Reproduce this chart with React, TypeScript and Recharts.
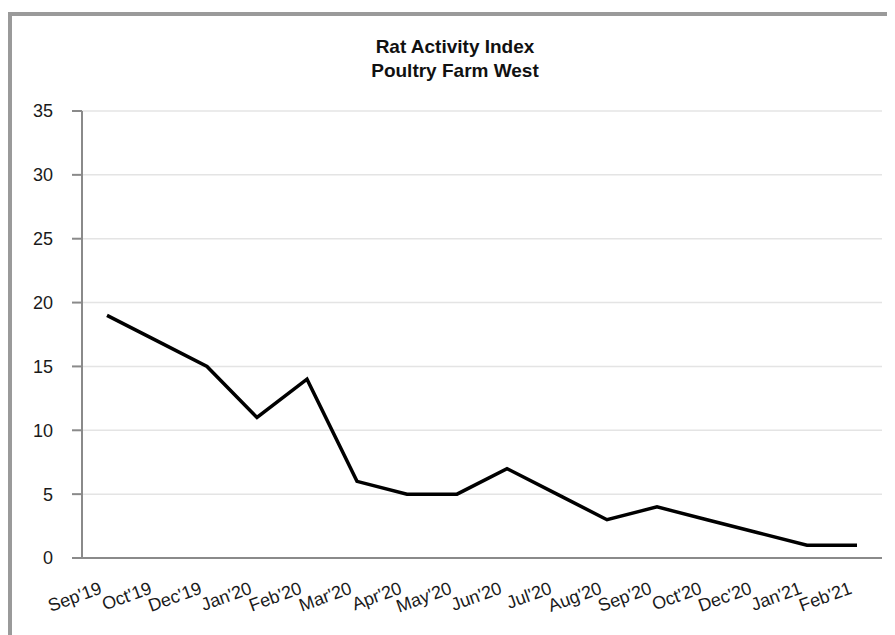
import React from 'react';
import { LineChart, Line, XAxis, YAxis, CartesianGrid } from 'recharts';

const months = ["Sep'19", "Oct'19", "Dec'19", "Jan'20", "Feb'20", "Mar'20", "Apr'20", "May'20", "Jun'20", "Jul'20", "Aug'20", "Sep'20", "Oct'20", "Dec'20", "Jan'21", "Feb'21"];
const activityIndex = [19, 17, 15, 11, 14, 6, 5, 5, 7, 5, 3, 4, 3, 2, 1, 1];
const yTicks = [0, 5, 10, 15, 20, 25, 30, 35];
const titleLines = ['Rat Activity Index', 'Poultry Farm West'];

const data = months.map((m, i) => ({ month: m, value: activityIndex[i] }));

const FONT = '"Liberation Sans", Arial, Helvetica, sans-serif';

const XTick = (props: any) => {
  const { x, y, payload } = props;
  return (
    <g transform={`translate(${x - 4},${y + 35})`}>
      <text x={0} y={0} textAnchor="end" transform="rotate(-20)" fontSize={18} fill="#1a1a1a" fontFamily={FONT}>
        {payload.value}
      </text>
    </g>
  );
};

export default function App() {
  return (
    <div style={{ position: 'relative', width: 887, height: 627, overflow: 'hidden', background: '#fff' }}>
      <div style={{ position: 'absolute', left: 0, top: 4, width: 1000, height: 1000, border: '4px solid #9a9a9a', boxSizing: 'border-box' }} />
      <div style={{ position: 'absolute', left: 0, top: 27, width: 894, textAlign: 'center', fontFamily: FONT, fontWeight: 'bold', fontSize: 19, lineHeight: '24px', color: '#111' }}>
        {titleLines.map((t) => (
          <div key={t}>{t}</div>
        ))}
      </div>
      <div style={{ position: 'absolute', left: 0, top: 0 }}>
        <LineChart width={887} height={627} data={data} margin={{ top: 103, right: 13, bottom: 17, left: 0 }}>
          <CartesianGrid vertical={false} stroke="#e4e4e4" strokeWidth={1.5} />
          <XAxis
            dataKey="month"
            interval={0}
            padding={{ left: 25, right: 25 }}
            tickLine={false}
            tickSize={0}
            tickMargin={0}
            height={60}
            stroke="#8a8a8a"
            strokeWidth={2}
            tick={<XTick />}
          />
          <YAxis
            domain={[0, 35]}
            ticks={yTicks}
            interval={0}
            width={74}
            tickSize={10}
            tickMargin={19}
            stroke="#8a8a8a"
            strokeWidth={2}
            tick={{ fontSize: 18, fill: '#1a1a1a', fontFamily: FONT }}
          />
          <Line
            type="linear"
            dataKey="value"
            stroke="#000"
            strokeWidth={3.5}
            dot={false}
            isAnimationActive={false}
          />
        </LineChart>
      </div>
    </div>
  );
}
